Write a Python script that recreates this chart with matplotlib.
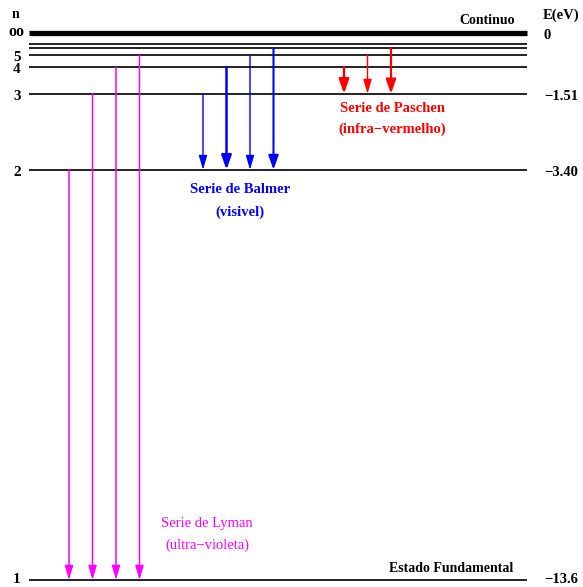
import matplotlib
matplotlib.use('Agg')
from matplotlib import pyplot as plt

# energy levels of hydrogen (eV)
levels_n = [1, 2, 3, 4, 5, 6, 7]
levels_E = [-13.6, -3.40, -1.51, -0.85, -0.544, -0.378, -0.278]
E_cont = 0.0

left_labels = ['1', '2', '3', '4', '5']
right_vals = [0.0, -1.51, -3.40, -13.6]
right_labels = ['0', '\u22121.51', '\u22123.40', '\u221213.6']

# transitions: (upper levels, lower level)
lyman_up = [2, 3, 4, 5]
balmer_up = [3, 4, 5, 6]
paschen_up = [4, 5, 6]

def energy(n):
    return levels_E[levels_n.index(n)]

fig = plt.figure(figsize=(5.83, 5.87), dpi=100)
ax = fig.add_axes([0, 0, 1, 1])
ax.set_xlim(0, 583)
k = (580 - 33) / 13.6
ax.set_ylim(-(587 - 33) / k, 33 / k)
ax.axis('off')

font = dict(family='Liberation Serif', fontweight='bold')

def nudge(E):
    # push text a bit down onto the line, except at the bottom edge
    return E - 0.06 if E > -13 else E + 0.02

x0, x1 = 29, 527
for n, E in zip(levels_n, levels_E):
    ax.plot([x0, x1], [E, E], color='#222222', lw=1.4, solid_capstyle='butt')
ax.plot([x0, x1], [E_cont, E_cont], color='black', lw=3.8, solid_capstyle='butt')

def draw_series(ups, low, xstart, color, widths):
    step = 23.5
    for i, (u, w) in enumerate(zip(ups, widths)):
        x = xstart + i * step
        hw = 0.25 if w < 1.5 else 0.3
        ax.annotate('', xy=(x, energy(low)), xytext=(x, energy(u)),
                    arrowprops=dict(arrowstyle='-|>,head_length=0.85,head_width=%s' % hw,
                                    color=color, lw=w, shrinkA=0, shrinkB=0))

draw_series(lyman_up, 1, 69, '#ff00ff', [1.1, 1.1, 1.1, 1.1])
draw_series(balmer_up, 2, 203, '#0000ff', [1.0, 1.8, 1.0, 1.5])
draw_series(paschen_up, 3, 344, '#ff0000', [1.8, 1.0, 1.6])

# left labels
for lab, n in zip(left_labels, levels_n):
    ax.text(17, nudge(energy(n)), lab, ha='center', va='center', fontsize=11, **font)
ax.text(16, E_cont + 0.03, 'oo', ha='center', va='center', fontsize=11.5, **font)
ax.text(16, 0.45, 'n', ha='center', va='center', fontsize=10, **font)

# right labels
for v, lab in zip(right_vals, right_labels):
    ax.text(544, nudge(v), lab, ha='left', va='center', fontsize=10.5, **font)
ax.text(561, 0.45, 'E(eV)', ha='center', va='center', fontsize=10.5, **font)
ax.text(515, 0.30, 'Continuo', ha='right', va='center', fontsize=10, **font)
ax.text(513, -13.32, 'Estado Fundamental', ha='right', va='center', fontsize=10, **font)

ax.text(240, -3.88, 'Serie de Balmer', ha='center', va='center', fontsize=10.5,
        color='#0000ff', **font)
ax.text(240, -4.45, '(visivel)', ha='center', va='center', fontsize=10.5,
        color='#0000ff', **font)
ax.text(392, -1.87, 'Serie de Paschen', ha='center', va='center', fontsize=10.5,
        color='#ff0000', **font)
ax.text(392, -2.39, '(infra\u2212vermelho)', ha='center', va='center', fontsize=10.5,
        color='#ff0000', **font)
ax.text(207, -12.19, 'Serie de Lyman', ha='center', va='center', fontsize=10.5,
        color='#ff00ff', family='Liberation Serif')
ax.text(207, -12.74, '(ultra\u2212violeta)', ha='center', va='center', fontsize=10.5,
        color='#ff00ff', family='Liberation Serif')

fig.savefig('out.png', dpi=100, facecolor='white')
